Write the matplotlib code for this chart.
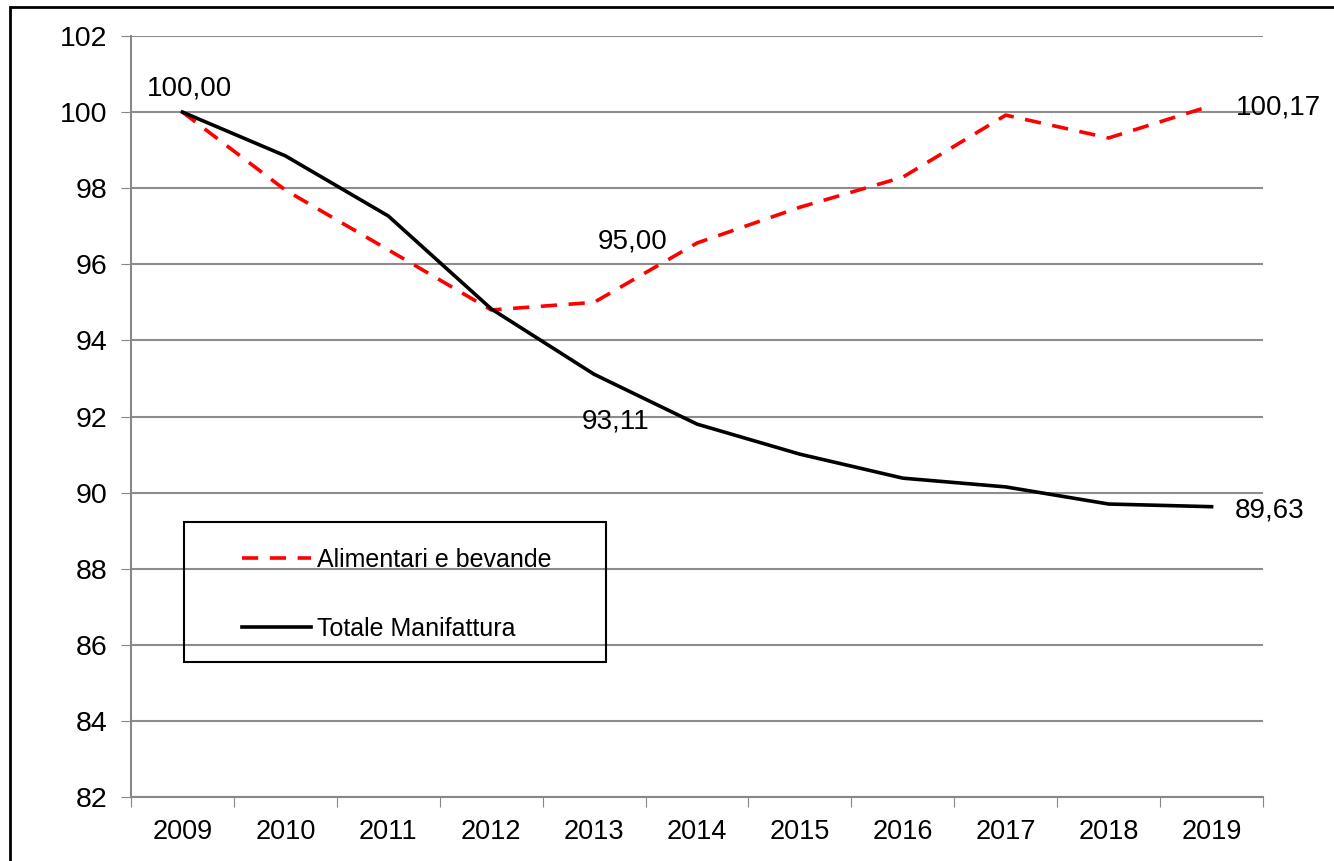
import matplotlib.pyplot as plt
from matplotlib.patches import Rectangle
import numpy as np

plt.rcParams['font.family'] = ['Liberation Sans', 'DejaVu Sans']

years = ['2009', '2010', '2011', '2012', '2013', '2014', '2015', '2016', '2017', '2018', '2019']
alimentari = [100.00, 97.95, 96.38, 94.80, 95.00, 96.56, 97.50, 98.29, 99.92, 99.32, 100.17]
manifattura = [100.00, 98.85, 97.27, 94.83, 93.11, 91.80, 91.01, 90.38, 90.15, 89.70, 89.63]

fig = plt.figure(figsize=(13.34, 8.61), dpi=100)
ax = fig.add_axes([0.0982, 0.0743, 0.8486, 0.8839])

x = np.arange(len(years))
ax.plot(x, alimentari, color='#ff0000', lw=2.6, dashes=(4.5, 3.2),
        label='Alimentari e bevande', zorder=3)
ax.plot(x, manifattura, color='black', lw=2.6, label='Totale Manifattura', zorder=3)

ax.set_xlim(-0.5, len(years) - 0.5)
ax.set_ylim(82, 102)
ax.set_yticks(np.arange(82, 103, 2))

# ticks between categories, labels at category centres
ax.set_xticks(np.arange(-0.5, len(years)), labels=[])
ax.set_xticks(x, labels=years, minor=True)
ax.tick_params(axis='x', which='major', length=7, color='#888888', direction='out')
ax.tick_params(axis='x', which='minor', length=0, pad=16, labelsize=19.5)
ax.tick_params(axis='y', length=7, color='#888888', pad=10, labelsize=20.5)

ax.grid(axis='y', color='#8c8c8c', lw=1.5, zorder=1)
ax.set_axisbelow(True)
for s in ['top', 'right']:
    ax.spines[s].set_visible(False)
for s in ['left', 'bottom']:
    ax.spines[s].set_color('#888888')
    ax.spines[s].set_linewidth(1.5)

# data labels
ax.text(0.07, 100.63, '100,00', ha='center', va='center', fontsize=20)
ax.text(4.37, 96.59, '95,00', ha='center', va='center', fontsize=20)
ax.text(4.21, 91.88, '93,11', ha='center', va='center', fontsize=20)
ax.text(10.24, 100.11, '100,17', ha='left', va='center', fontsize=20)
ax.text(10.23, 89.54, '89,63', ha='left', va='center', fontsize=20)

# legend box
ax.add_patch(Rectangle((0.047, 0.177), 0.373, 0.184, transform=ax.transAxes,
                       fill=False, edgecolor='black', lw=1.5, zorder=4))
ax.legend(loc='upper left', bbox_to_anchor=(0.098, 0.327), frameon=False,
          fontsize=18, borderpad=0, borderaxespad=0, handlelength=2.75,
          handletextpad=0.25, labelspacing=1.8)

# outer frame
fig.patches.append(Rectangle((0.0075, -0.01), 1.01, 1.002,
                             transform=fig.transFigure, fill=False,
                             edgecolor='black', lw=2))

fig.savefig('out.png', dpi=100)
